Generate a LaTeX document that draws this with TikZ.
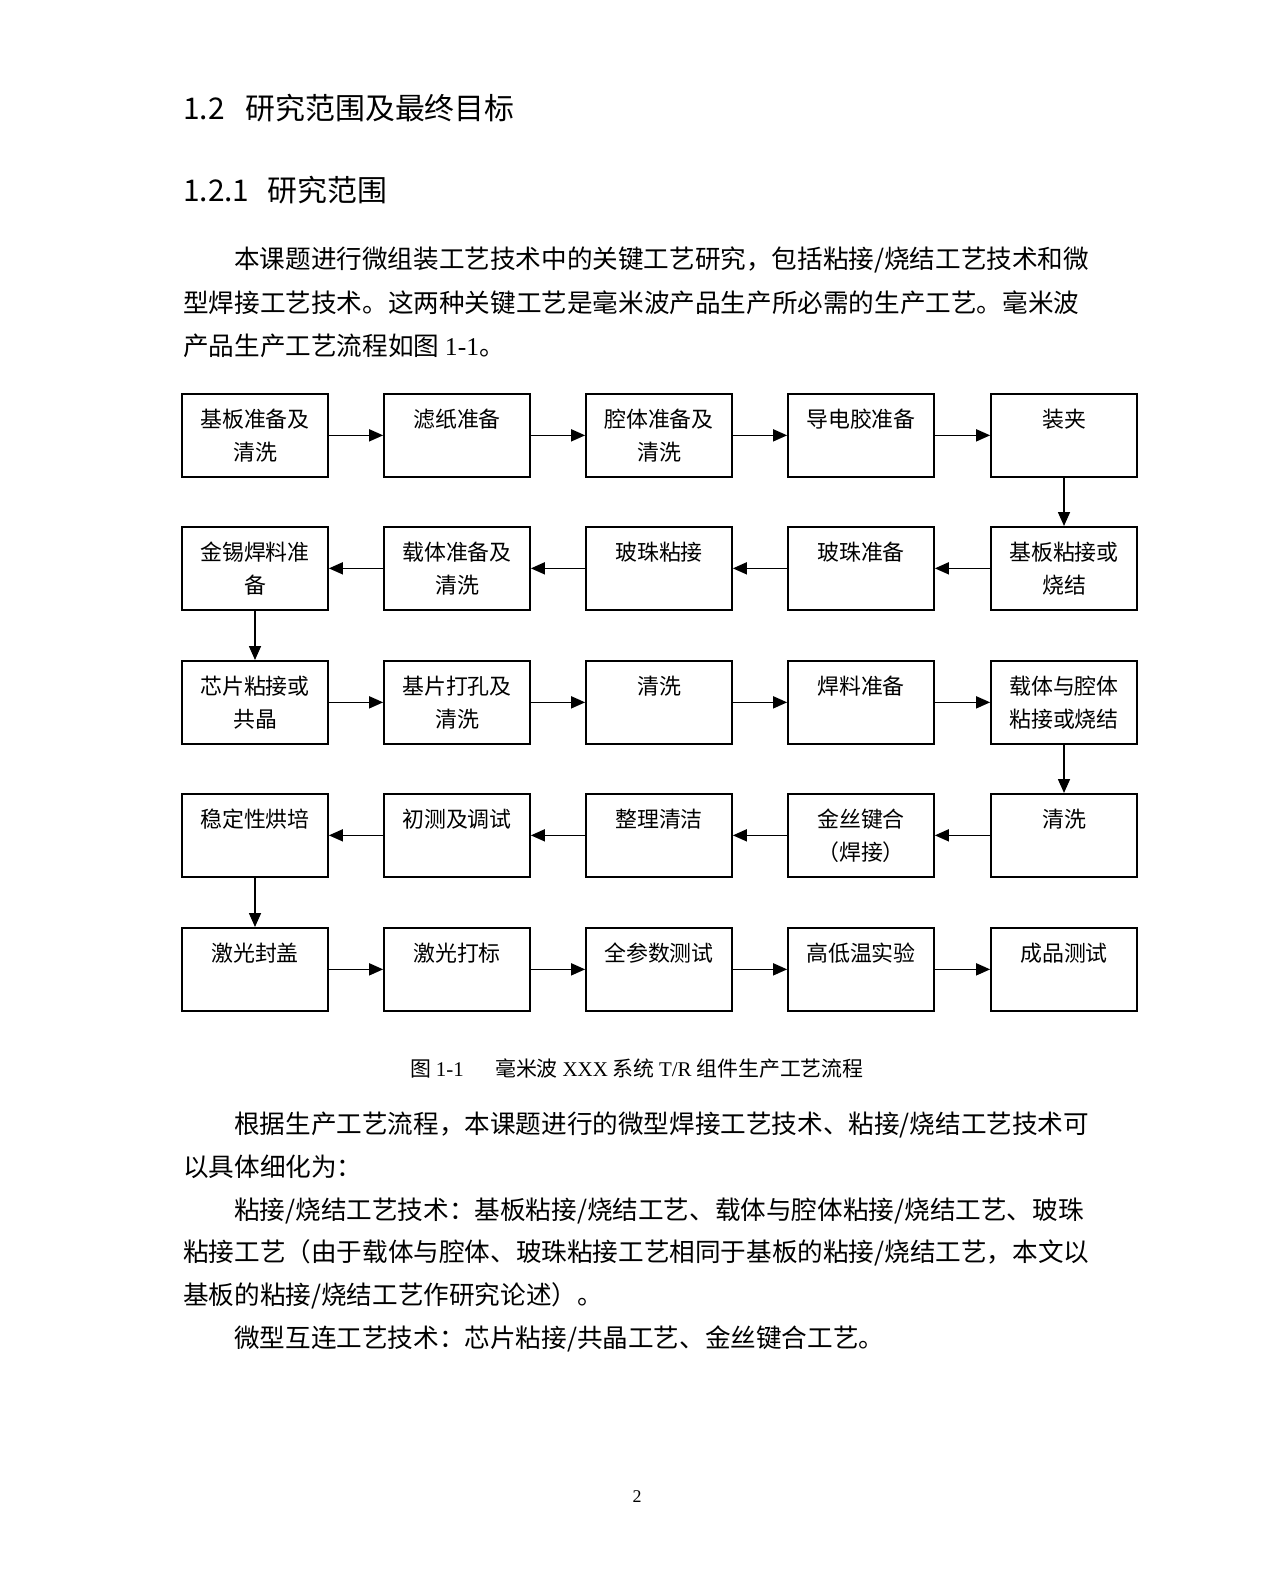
\documentclass[tikz,border=0pt]{standalone}
\usepackage{fontspec}
\setmainfont{Liberation Serif}
\newfontfamily\cjk{Noto Sans CJK SC}
\usetikzlibrary{arrows.meta}

\tikzset{
  box/.style={draw, line width=1.7pt, anchor=north, text width=130bp, align=center,
    inner xsep=8bp, inner ysep=0pt, text height=33.5bp, text depth=49.5bp,
    font=\cjk\fontsize{22}{33}\selectfont},
  flow/.style={line width=1.6pt, -{Triangle[length=14bp,width=12bp]}},
  body/.style={anchor=west, inner sep=0pt, font=\cjk\fontsize{25.7}{30}\selectfont},
  head/.style={anchor=west, inner sep=0pt, font=\cjk\fontsize{30}{34}\selectfont},
}

\begin{document}
\begin{tikzpicture}[x=1bp,y=-1bp]
  \fill[white] (0,0) rectangle (1280,1576);
  \useasboundingbox (0,0) rectangle (1280,1576);

  % headings and text above the chart
  \node[head] (h1) at (183,108) {1.2\hspace{0.7em}研究范围及最终目标};
  \node[head] (h2) at (183,190) {1.2.1\hspace{0.6em}研究范围};
  \node[body] (p1) at (234,260) {本课题进行微组装工艺技术中的关键工艺研究，包括粘接/烧结工艺技术和微};
  \node[body] (p2) at (183,303) {型焊接工艺技术。这两种关键工艺是毫米波产品生产所必需的生产工艺。毫米波};
  \node[body] (p3) at (183,346) {产品生产工艺流程如图 {\rmfamily 1-1}。};

  % row 1
  \node[box] (A1) at (255,393) {基板准备及\\清洗};
  \node[box] (A2) at (457,393) {滤纸准备};
  \node[box] (A3) at (659,393) {腔体准备及\\清洗};
  \node[box] (A4) at (861,393) {导电胶准备};
  \node[box] (A5) at (1064,393) {装夹};
  % row 2
  \node[box] (B1) at (255,526) {金锡焊料准\\备};
  \node[box] (B2) at (457,526) {载体准备及\\清洗};
  \node[box] (B3) at (659,526) {玻珠粘接};
  \node[box] (B4) at (861,526) {玻珠准备};
  \node[box] (B5) at (1064,526) {基板粘接或\\烧结};
  % row 3
  \node[box] (C1) at (255,660) {芯片粘接或\\共晶};
  \node[box] (C2) at (457,660) {基片打孔及\\清洗};
  \node[box] (C3) at (659,660) {清洗};
  \node[box] (C4) at (861,660) {焊料准备};
  \node[box] (C5) at (1064,660) {载体与腔体\\粘接或烧结};
  % row 4
  \node[box] (D1) at (255,793) {稳定性烘培};
  \node[box] (D2) at (457,793) {初测及调试};
  \node[box] (D3) at (659,793) {整理清洁};
  \node[box] (D4) at (861,793) {金丝键合\\（焊接）};
  \node[box] (D5) at (1064,793) {清洗};
  % row 5
  \node[box] (E1) at (255,927) {激光封盖};
  \node[box] (E2) at (457,927) {激光打标};
  \node[box] (E3) at (659,927) {全参数测试};
  \node[box] (E4) at (861,927) {高低温实验};
  \node[box] (E5) at (1064,927) {成品测试};

  \foreach \i/\j in {1/2,2/3,3/4,4/5}
    {
      \draw[flow] (A\i) -- (A\j);
      \draw[flow] (B\j) -- (B\i);
      \draw[flow] (C\i) -- (C\j);
      \draw[flow] (D\j) -- (D\i);
      \draw[flow] (E\i) -- (E\j);
    }
  \draw[flow] (A5) -- (B5);
  \draw[flow] (B1) -- (C1);
  \draw[flow] (C5) -- (D5);
  \draw[flow] (D1) -- (E1);

  % caption and text below the chart
  \node[inner sep=0pt, font=\cjk\fontsize{21}{24}\selectfont] (cap) at (637,1069)
    {图 {\rmfamily 1-1}\hspace{1.5em}毫米波 {\rmfamily XXX} 系统 {\rmfamily T/R} 组件生产工艺流程};
  \node[body] (q1) at (234,1125) {根据生产工艺流程，本课题进行的微型焊接工艺技术、粘接/烧结工艺技术可};
  \node[body] (q2) at (183,1167) {以具体细化为：};
  \node[body] (q3) at (234,1211) {粘接/烧结工艺技术：基板粘接/烧结工艺、载体与腔体粘接/烧结工艺、玻珠};
  \node[body] (q4) at (183,1253) {粘接工艺（由于载体与腔体、玻珠粘接工艺相同于基板的粘接/烧结工艺，本文以};
  \node[body] (q5) at (183,1296) {基板的粘接/烧结工艺作研究论述）。};
  \node[body] (q6) at (234,1339) {微型互连工艺技术：芯片粘接/共晶工艺、金丝键合工艺。};

  \node[inner sep=0pt, font=\fontsize{18}{20}\selectfont] (pg) at (637,1497) {2};
\end{tikzpicture}
\end{document}
